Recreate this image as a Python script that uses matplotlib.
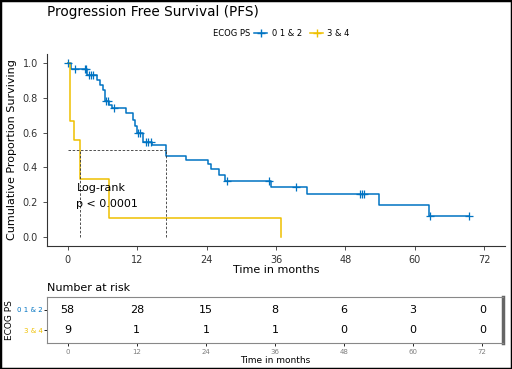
import matplotlib.pyplot as plt
import numpy as np
from matplotlib.lines import Line2D
from matplotlib.patches import Rectangle

# group 0 1 & 2 (n=58)
times_a = [0, 0.5, 3.4, 5.1, 5.6, 6.0, 6.4, 7.2, 7.7, 10.0, 11.2, 11.7, 12.0,
           13.0, 14.6, 17.0, 20.4, 24.2, 24.8, 26.1, 27.1, 35.2, 41.4, 53.8, 62.4]
surv_a = [1.0, 0.966, 0.93, 0.902, 0.87, 0.845, 0.778, 0.76, 0.74, 0.71, 0.672,
          0.64, 0.6, 0.545, 0.529, 0.465, 0.44, 0.42, 0.39, 0.356, 0.322, 0.286,
          0.247, 0.186, 0.123]
end_a = 69.4
cens_a = [0, 1.3, 3.0, 3.2, 3.6, 4.0, 4.4, 6.6, 7.0, 7.9, 12.2, 12.5, 13.5, 13.9,
          14.3, 27.5, 34.8, 39.5, 50.5, 50.9, 51.3, 62.7, 69.4]

# group 3 & 4 (n=9)
times_b = [0, 0.4, 1.1, 2.07, 7.1, 36.9]
surv_b = [1.0, 0.667, 0.556, 0.333, 0.111, 0.0]
end_b = 36.9

medians = [17.0, 2.07]

risk_times = [0, 12, 24, 36, 48, 60, 72]
risk_a = [58, 28, 15, 8, 6, 3, 0]
risk_b = [9, 1, 1, 1, 0, 0, 0]

groups = ["0 1 & 2", "3 & 4"]
colors = ["#0073C2", "#EFC000"]

W, H = 512, 369
fig = plt.figure(figsize=(W / 100, H / 100), dpi=100)


def box(l, t, r, b):
    return [l / W, 1 - b / H, (r - l) / W, (b - t) / H]


ax = fig.add_axes(box(47, 54, 505, 246))


def surv_at(times, surv, t):
    i = np.searchsorted(times, t, side="right") - 1
    return surv[i]


for times, surv, end, col in [(times_a, surv_a, end_a, colors[0]),
                              (times_b, surv_b, end_b, colors[1])]:
    xs = list(times) + [end]
    ys = list(surv) + [surv[-1]]
    ax.step(xs, ys, where="post", color=col, lw=1.1)

cy = [surv_at(times_a, surv_a, t) for t in cens_a]
ax.plot(cens_a, cy, "+", color=colors[0], ms=5.5, mew=0.9)

# median lines
ax.plot([0, max(medians)], [0.5, 0.5], ls=(0, (3, 2)), color="#333333", lw=0.6)
for m in medians:
    ax.plot([m, m], [0, 0.5], ls=(0, (3, 2)), color="#333333", lw=0.6)

ax.text(1.5, 0.28, "Log-rank", fontsize=8, va="center")
ax.text(1.5, 0.19, "p < 0.0001", fontsize=8, va="center")

ax.set_xlim(-3.6, 75.6)
ax.set_ylim(-0.05, 1.05)
ax.set_xticks(risk_times)
ax.set_yticks([0, 0.2, 0.4, 0.6, 0.8, 1.0])
ax.set_yticklabels(["0.0", "0.2", "0.4", "0.6", "0.8", "1.0"])
ax.tick_params(labelsize=7, colors="#333333", length=3, width=0.6)
for s in ["top", "right"]:
    ax.spines[s].set_visible(False)
for s in ["left", "bottom"]:
    ax.spines[s].set_linewidth(0.8)
    ax.spines[s].set_color("#333333")
ax.set_xlabel("Time in months", fontsize=8, labelpad=0)
ax.set_ylabel("Cumulative Proportion Surviving", fontsize=8, labelpad=4)

fig.text(47 / W, 1 - 12 / H, "Progression Free Survival (PFS)", fontsize=9.8,
         va="center", ha="left")

fig.text(250 / W, 1 - 33 / H, "ECOG PS", fontsize=6, va="center", ha="right")
handles = [Line2D([], [], color=c, marker="+", ms=6, lw=1.1) for c in colors]
fig.legend(handles, groups, loc="center left", bbox_to_anchor=(254 / W, 1 - 33 / H),
           ncol=2, frameon=False, fontsize=6, handlelength=1.6, columnspacing=1.0,
           handletextpad=0.5, borderpad=0, borderaxespad=0)

# risk table
rt = fig.add_axes(box(47, 297, 503, 343))
for j, (row, col) in enumerate(zip([risk_a, risk_b], colors)):
    for t, n in zip(risk_times, row):
        rt.text(t, 1 - j, str(n), fontsize=8, ha="center", va="center")
rt.set_xlim(-3.6, 75.6)
rt.set_ylim(-0.6, 1.6)
rt.set_xticks(risk_times)
rt.set_yticks([1, 0])
rt.set_yticklabels(groups)
for lab, col in zip(rt.get_yticklabels(), colors):
    lab.set_color(col)
rt.tick_params(axis="y", labelsize=5, length=2, width=0.6, pad=1)
rt.tick_params(axis="x", labelsize=5, labelcolor="#7f7f7f", length=2, width=0.6, pad=2)
for s in rt.spines.values():
    s.set_color("#888888")
    s.set_linewidth(0.8)
rt.spines["right"].set_linewidth(2.5)
rt.spines["right"].set_color("#666666")
rt.set_xlabel("Time in months", fontsize=6.5, labelpad=1)
rt.set_ylabel("ECOG PS", fontsize=6.5, labelpad=2)
rt.set_title("Number at risk", fontsize=8, loc="left", pad=4)

fig.patches.append(Rectangle((0, 0), 1, 1, transform=fig.transFigure, fill=False,
                             edgecolor="black", lw=2.5))

fig.savefig("out.png", dpi=100)
